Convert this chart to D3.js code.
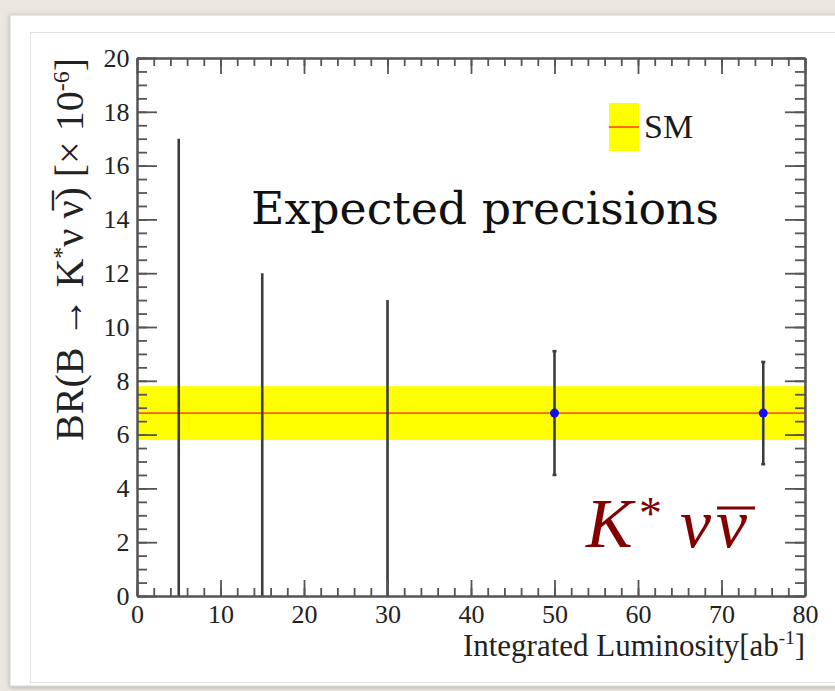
<!DOCTYPE html>
<html>
<head>
<meta charset="utf-8">
<script src="https://cdn.jsdelivr.net/npm/d3@7/dist/d3.min.js"></script>
<style>
  html, body { margin: 0; padding: 0; background: #e9e7df; overflow: hidden; }
  text { font-family: "Liberation Serif", "Times New Roman", serif; }
</style>
</head>
<body>
<svg id="chart" width="835" height="691"></svg>
<script>
// Expected precision of BR(B -> K* nu nubar) vs integrated luminosity
const luminosity = [5, 15, 30, 50, 75];           // ab^-1
const central    = [null, null, null, 6.8, 6.8];  // measured value (x 10^-6)
const errLow     = [0, 0, 0, 4.5, 4.9];           // lower end of error bar
const errHigh    = [17, 12, 11, 9.1, 8.7];        // upper end of error bar

const smValue = 6.8;   // Standard Model prediction
const smLow   = 5.8;
const smHigh  = 7.8;

const xTicks = [0, 10, 20, 30, 40, 50, 60, 70, 80];
const yTicks = [0, 2, 4, 6, 8, 10, 12, 14, 16, 18, 20];

const svg = d3.select("#chart");

// slide-style photo frame
const defs = svg.append("defs");
const sh = defs.append("filter").attr("id", "shadow")
  .attr("x", "-5%").attr("y", "-5%").attr("width", "110%").attr("height", "110%");
sh.append("feDropShadow").attr("dx", 0).attr("dy", 1).attr("stdDeviation", 2)
  .attr("flood-color", "#000").attr("flood-opacity", 0.25);

svg.append("rect").attr("x", 10).attr("y", 15).attr("width", 840).attr("height", 671)
  .attr("fill", "#fff").attr("stroke", "#d4d4d0").attr("stroke-width", 1)
  .attr("filter", "url(#shadow)");
svg.append("rect").attr("x", 30.5).attr("y", 32.5).attr("width", 820).attr("height", 650)
  .attr("fill", "none").attr("stroke", "#e2e2e0").attr("stroke-width", 1);

// plot area
const x = d3.scaleLinear().domain([0, 80]).range([137, 805]);
const y = d3.scaleLinear().domain([0, 20]).range([596, 58]);

const axisColor = "#555";
const g = svg.append("g");

// SM band and central line
g.append("rect")
  .attr("x", x(0)).attr("width", x(80) - x(0))
  .attr("y", y(smHigh)).attr("height", y(smLow) - y(smHigh))
  .attr("fill", "#ffff00");
g.append("line")
  .attr("x1", x(80)).attr("x2", x(80)).attr("y1", y(smHigh)).attr("y2", y(smLow))
  .attr("stroke", "#ff7a3a").attr("stroke-width", 1.5);
g.append("line")
  .attr("x1", x(0)).attr("x2", x(80)).attr("y1", y(smValue)).attr("y2", y(smValue))
  .attr("stroke", "#ff5a1a").attr("stroke-width", 1.8);

// error bars
const pts = luminosity.map((l, i) => ({ l, c: central[i], lo: errLow[i], hi: errHigh[i] }));
const bars = g.append("g").attr("stroke", "#3c3c3c").attr("stroke-width", 2.6);
bars.selectAll("line.bar").data(pts).join("line").attr("class", "bar")
  .attr("x1", d => x(d.l)).attr("x2", d => x(d.l))
  .attr("y1", d => y(d.lo)).attr("y2", d => y(d.hi));
bars.selectAll("line.cap").data(pts.filter(d => d.lo > 0).flatMap(d => [
    { l: d.l, v: d.lo }, { l: d.l, v: d.hi }])).join("line").attr("class", "cap")
  .attr("x1", d => x(d.l) - 2).attr("x2", d => x(d.l) + 2)
  .attr("y1", d => y(d.v)).attr("y2", d => y(d.v));

g.selectAll("circle.pt").data(pts.filter(d => d.c !== null)).join("circle")
  .attr("class", "pt")
  .attr("cx", d => x(d.l)).attr("cy", d => y(d.c)).attr("r", 4.5)
  .attr("fill", "#1010f0");

// axes with inward ticks on all four sides
function styleAxis(sel) {
  sel.selectAll("path.domain").attr("stroke", axisColor).attr("stroke-width", 2);
  sel.selectAll(".tick line").attr("stroke", axisColor).attr("stroke-width", 1.8);
  sel.selectAll(".tick text").attr("fill", "#222")
    .style("font-family", "'Liberation Serif', serif").style("font-size", "26px");
}
const xMinor = d3.range(0, 80.01, 2);
const yMinor = d3.range(0, 20.01, 0.5);

// bottom
g.append("g").attr("transform", `translate(0,${y(0)})`)
  .call(d3.axisBottom(x).tickValues(xMinor).tickSizeInner(-8).tickSizeOuter(0).tickFormat(""))
  .call(styleAxis);
g.append("g").attr("transform", `translate(0,${y(0)})`)
  .call(d3.axisBottom(x).tickValues(xTicks).tickSizeInner(-16).tickSizeOuter(0)
    .tickFormat(d3.format("d")))
  .call(styleAxis)
  .call(s => s.selectAll(".tick text").attr("dy", null).attr("y", 26.5));
// top
g.append("g").attr("transform", `translate(0,${y(20)})`)
  .call(d3.axisTop(x).tickValues(xMinor).tickSizeInner(-8).tickSizeOuter(0).tickFormat(""))
  .call(styleAxis);
g.append("g").attr("transform", `translate(0,${y(20)})`)
  .call(d3.axisTop(x).tickValues(xTicks).tickSizeInner(-16).tickSizeOuter(0).tickFormat(""))
  .call(styleAxis);
// left
g.append("g").attr("transform", `translate(${x(0)},0)`)
  .call(d3.axisLeft(y).tickValues(yMinor).tickSizeInner(-10).tickSizeOuter(0).tickFormat(""))
  .call(styleAxis);
g.append("g").attr("transform", `translate(${x(0)},0)`)
  .call(d3.axisLeft(y).tickValues(yTicks).tickSizeInner(-20).tickSizeOuter(0)
    .tickFormat(d3.format("d")))
  .call(styleAxis)
  .call(s => s.selectAll(".tick text").attr("x", -7.5));
// right
g.append("g").attr("transform", `translate(${x(80)},0)`)
  .call(d3.axisRight(y).tickValues(yMinor).tickSizeInner(-10).tickSizeOuter(0).tickFormat(""))
  .call(styleAxis);
g.append("g").attr("transform", `translate(${x(80)},0)`)
  .call(d3.axisRight(y).tickValues(yTicks).tickSizeInner(-20).tickSizeOuter(0).tickFormat(""))
  .call(styleAxis);

// axis titles
const xt = svg.append("text")
  .attr("x", x(80)).attr("y", 656).attr("text-anchor", "end")
  .attr("fill", "#222").style("font-size", "31px");
xt.append("tspan").text("Integrated Luminosity[ab");
xt.append("tspan").attr("dy", -12).style("font-size", "19px").text("-1");
xt.append("tspan").attr("dy", 12).text("]");

const yt = svg.append("text")
  .attr("transform", `translate(83,${y(20)}) rotate(-90)`)
  .attr("text-anchor", "end").attr("fill", "#222").style("font-size", "40px");
yt.append("tspan").text("BR(B \u2192 K");
yt.append("tspan").attr("dy", -14).style("font-size", "24px").text("*");
yt.append("tspan").attr("dy", 14).text("\u03bd \u03bd\u0305) [\u00d7 10");
yt.append("tspan").attr("dy", -14).style("font-size", "24px").text("-6");
yt.append("tspan").attr("dy", 14).text("]");

// annotation
svg.append("text").attr("x", 251).attr("y", 224)
  .attr("fill", "#111").style("font-family", "'DejaVu Serif', serif").style("font-size", "45px")
  .attr("textLength", 468).attr("lengthAdjust", "spacingAndGlyphs")
  .text("Expected precisions");

// legend
svg.append("rect").attr("x", 609).attr("y", 103).attr("width", 30).attr("height", 48)
  .attr("fill", "#ffff00");
svg.append("line").attr("x1", 609).attr("x2", 639).attr("y1", 127).attr("y2", 127)
  .attr("stroke", "#ff5a1a").attr("stroke-width", 1.8);
svg.append("text").attr("x", 644).attr("y", 138).attr("fill", "#1a1a1a")
  .style("font-size", "34px").text("SM");

// channel label K* nu nubar
const red = "#820000";
const lab = svg.append("g").attr("fill", red);
lab.append("text").attr("x", 586).attr("y", 547)
  .style("font-size", "70px").style("font-style", "italic").text("K");
lab.append("text").attr("x", 639).attr("y", 529)
  .style("font-size", "46px").text("*");
lab.append("text").attr("x", 680).attr("y", 547)
  .style("font-size", "70px").style("font-style", "italic").text("\u03bd");
lab.append("text").attr("x", 716).attr("y", 547)
  .style("font-size", "70px").style("font-style", "italic").text("\u03bd");
lab.append("line").attr("x1", 717).attr("x2", 755).attr("y1", 508).attr("y2", 508)
  .attr("stroke", red).attr("stroke-width", 3);
</script>
</body>
</html>
